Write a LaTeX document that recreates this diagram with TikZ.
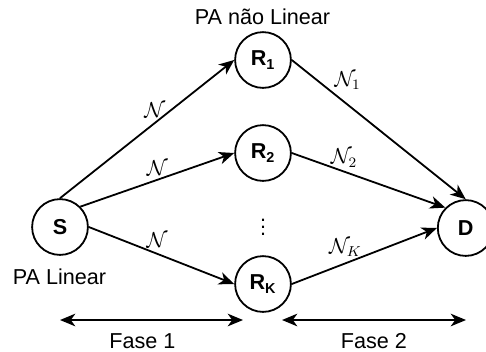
\documentclass[tikz,border=0pt,12pt]{standalone}
\usepackage[no-math]{fontspec}
\setmainfont{Liberation Sans}
\usetikzlibrary{arrows.meta}

\begin{document}
\begin{tikzpicture}[x = 0.5556pt, y = -0.5556pt, line width = 1pt, >={Stealth[length = 8.5pt, width = 7pt, inset = 2.5pt]}]
        \tikzstyle{terminal} = [circle, draw, minimum size = 31pt, inner sep = 0pt, font = \bfseries]
        \tikzstyle{gain} = [inner sep = 1pt]
        \useasboundingbox (0, 0) rectangle (486, 351);

        \node(S)[terminal] at (60, 227) {S};
        \node(R1)[terminal] at (263, 60) {R\textsubscript{1}};
        \node(R2)[terminal] at (263, 153) {R\textsubscript{2}};
        \node(RK)[terminal] at (263, 284) {R\textsubscript{K}};
        \node(D)[terminal] at (465.7, 228) {D};
        \node(dots) at (263, 222) {$\vdots$};

        \node(PA nl) at (262.5, 17) {PA não Linear};
        \node(PA l) at (59.5, 277) {PA Linear};

        % first hop
        \draw [->] (S.north) -- node[gain, left = 2pt, pos = 0.64] {$\mathcal{N}$} (R1.west);
        \draw [->] (S.north east) -- node[gain, above = 1pt, pos = 0.5] {$\mathcal{N}$} (R2.west);
        \draw [->] (S.east) -- node[gain, above = 2pt, pos = 0.47] {$\mathcal{N}$} (RK.west);

        % second hop
        \draw [->] (R1.east) -- node[gain, above right, pos = 0.23] {$\mathcal{N}_1$} (D.north);
        \draw [->] (R2.east) -- node[gain, above = 1pt, pos = 0.34] {$\mathcal{N}_2$} (D.north west);
        \draw [->] (RK.east) -- node[gain, above = 2pt, pos = 0.37] {$\mathcal{N}_K$} (D.west);

        % phases
        \coordinate(Fase1 start) at (60, 320);
        \coordinate(Fase1 end) at (243, 320);
        \coordinate(Fase2 start) at (282, 320);
        \coordinate(Fase2 end) at (466, 320);
        \draw [<->] (Fase1 start) -- node[below = 3pt, pos = 0.45] {Fase 1} (Fase1 end);
        \draw [<->] (Fase2 start) -- node[below = 3pt] {Fase 2} (Fase2 end);

\end{tikzpicture}
\end{document}
